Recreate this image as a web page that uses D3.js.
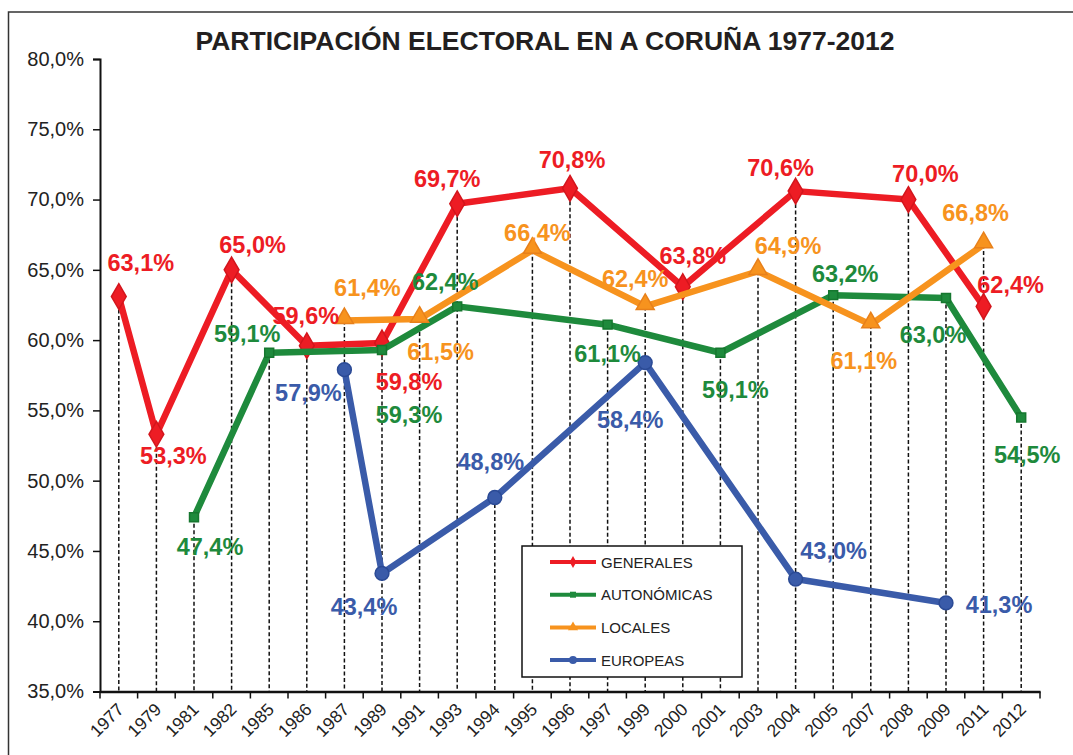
<!DOCTYPE html>
<html><head><meta charset="utf-8">
<script src="https://cdn.jsdelivr.net/npm/d3@7"></script>
<style>body{margin:0;background:#fff}svg{display:block}</style>
</head><body>
<svg id="chart" width="1073" height="755"></svg>
<script>
// ---- data ----
const years = ["1977","1979","1981","1982","1985","1986","1987","1989","1991","1993","1994","1995","1996","1997","1999","2000","2001","2003","2004","2005","2007","2008","2009","2011","2012"];
const generalesYears = ["1977","1979","1982","1986","1989","1993","1996","2000","2004","2008","2011"];
const generalesValues = [63.1,53.3,65.0,59.6,59.8,69.7,70.8,63.8,70.6,70.0,62.4];
const autonomicasYears = ["1981","1985","1989","1993","1997","2001","2005","2009","2012"];
const autonomicasValues = [47.4,59.1,59.3,62.4,61.1,59.1,63.2,63.0,54.5];
const localesYears = ["1987","1991","1995","1999","2003","2007","2011"];
const localesValues = [61.4,61.5,66.4,62.4,64.9,61.1,66.8];
const europeasYears = ["1987","1989","1994","1999","2004","2009"];
const europeasValues = [57.9,43.4,48.8,58.4,43.0,41.3];
const yTicks = [35,40,45,50,55,60,65,70,75,80];
const seriesNames = ["GENERALES","AUTONÓMICAS","LOCALES","EUROPEAS"];
const titleText = "PARTICIPACIÓN ELECTORAL EN A CORUÑA 1977-2012";

// label placement (styling, px offsets from the point)
const generalesLabelOffsets = [[22,-34],[17,21],[21,-25],[-1,-30],[27,39],[-10,-25],[2,-29],[10,-31],[-15,-24],[17,-26],[27,-22]];
const autonomicasLabelOffsets = [[16,29],[-22,-19],[27,65],[-12,-25],[0,29],[15,37],[12,-22],[-13,37],[6,37]];
const localesLabelOffsets = [[23,-33],[21,33],[5,-18],[-10,-28],[30,-26],[-7,36],[-8,-32]];
const europeasLabelOffsets = [[-36,23],[-18,33],[-4,-36],[-15,57],[38,-28],[53,2]];

const colors = ["#ED1C24","#1E8A3C","#F7931E","#3A5BA9"];
const strokes = ["#D3151C","#16772F","#E8801A","#2B4A95"];
const symbols = [d3.symbolDiamond, d3.symbolSquare, d3.symbolTriangle, d3.symbolCircle];
const symSizes = [190, 80, 140, 150];

const series = [
  {years: generalesYears, values: generalesValues, offs: generalesLabelOffsets},
  {years: autonomicasYears, values: autonomicasValues, offs: autonomicasLabelOffsets},
  {years: localesYears, values: localesValues, offs: localesLabelOffsets},
  {years: europeasYears, values: europeasValues, offs: europeasLabelOffsets}
].map((s,i)=>({name: seriesNames[i], color: colors[i], stroke: strokes[i], symbol: symbols[i], size: symSizes[i],
   points: s.years.map((yr,j)=>({year:yr, value:s.values[j], off:s.offs[j]}))}));

// ---- layout ----
const svg = d3.select("#chart");
const plotLeft = 100, plotRight = 1040, plotTop = 59, plotBottom = 691.5;
const x = d3.scaleBand().domain(years).range([plotLeft, plotRight]).paddingInner(0).paddingOuter(0);
const cx = d => x(d) + x.bandwidth()/2;
const y = d3.scaleLinear().domain([35,80]).range([plotBottom, plotTop]);
const font = "Liberation Sans, Arial, Helvetica, sans-serif";

// frame
svg.append("rect").attr("x",8.5).attr("y",12).attr("width",1100).attr("height",800)
  .attr("fill","none").attr("stroke","#333").attr("stroke-width",1.5);

// title
svg.append("text").attr("x",545).attr("y",50).attr("text-anchor","middle")
  .attr("font-family",font).attr("font-weight","bold").attr("font-size",26.5).attr("fill","#231F20")
  .text(titleText);

// drop lines
const maxByYear = new Map();
series.forEach(s=>s.points.forEach(p=>{
  maxByYear.set(p.year, Math.max(maxByYear.has(p.year)?maxByYear.get(p.year):-Infinity, p.value));
}));
svg.append("g").selectAll("line").data(years.filter(yr=>maxByYear.has(yr))).join("line")
  .attr("x1",d=>cx(d)).attr("x2",d=>cx(d))
  .attr("y1",d=>y(maxByYear.get(d))).attr("y2",plotBottom)
  .attr("stroke","#111").attr("stroke-width",1.5).attr("stroke-dasharray","4,2.5");

// axes
const yAxis = d3.axisLeft(y).tickValues(yTicks).tickSize(7).tickPadding(9)
  .tickFormat(d=>d3.format(".1f")(d).replace(".",",")+"%");
const gy = svg.append("g").attr("transform",`translate(${plotLeft},0)`).call(yAxis);
gy.select(".domain").attr("stroke","#111").attr("stroke-width",2);
gy.selectAll(".tick line").attr("stroke","#111").attr("stroke-width",1.5);
gy.selectAll(".tick text").attr("font-family",font).attr("font-size",20).attr("fill","#222");

const xAxis = d3.axisBottom(x).tickSize(0).tickFormat(d=>d);
const gx = svg.append("g").attr("transform",`translate(0,${plotBottom})`).call(xAxis);
gx.select(".domain").attr("stroke","#111").attr("stroke-width",2.5);
gx.selectAll(".tick text").attr("font-family",font).attr("font-size",17.5).attr("fill","#222")
  .attr("text-anchor","end").attr("dy","0").attr("y",0).attr("x",0)
  .attr("transform","translate(6,19) rotate(-45)");
// boundary ticks (between categories)
const bounds = years.map(d=>x(d)).concat([plotRight]);
gx.append("g").selectAll("line").data(bounds).join("line")
  .attr("x1",d=>d).attr("x2",d=>d).attr("y1",0).attr("y2",7)
  .attr("stroke","#111").attr("stroke-width",1.5);

// series lines + markers
const line = d3.line().x(d=>cx(d.year)).y(d=>y(d.value));
series.forEach(s=>{
  const g = svg.append("g");
  g.append("path").datum(s.points).attr("d",line).attr("fill","none")
    .attr("stroke",s.color).attr("stroke-width",6.5).attr("stroke-linejoin","round").attr("stroke-linecap","butt");
  g.selectAll("path.m").data(s.points).join("path").attr("class","m")
    .attr("d",d3.symbol().type(s.symbol).size(s.size))
    .attr("transform",d=>`translate(${cx(d.year)},${y(d.value)})${s.symbol===d3.symbolTriangle?" translate(0,-2)":""}`)
    .attr("fill",s.color).attr("stroke",s.stroke).attr("stroke-width",1.5);
});

// data labels
const fmt = v => d3.format(".1f")(v).replace(".",",")+"%";
series.forEach(s=>{
  svg.append("g").selectAll("text").data(s.points).join("text")
    .attr("x",d=>cx(d.year)+d.off[0]).attr("y",d=>y(d.value)+d.off[1]+8.4)
    .attr("text-anchor","middle").attr("font-family",font).attr("font-weight","bold")
    .attr("font-size",23.5).attr("fill",s.color).text(d=>fmt(d.value));
});

// legend
const lg = svg.append("g");
lg.append("rect").attr("x",522).attr("y",546).attr("width",220).attr("height",131)
  .attr("fill","#fff").attr("stroke","#111").attr("stroke-width",1.5);
const legSizes = [40,36,45,50];
series.forEach((s,i)=>{
  const ly = 562 + i*32.7;
  lg.append("line").attr("x1",550).attr("x2",596).attr("y1",ly).attr("y2",ly)
    .attr("stroke",s.color).attr("stroke-width",4);
  lg.append("path").attr("d",d3.symbol().type(s.symbol).size(legSizes[i]))
    .attr("transform",`translate(573,${ly})`).attr("fill",s.color);
  lg.append("text").attr("x",601).attr("y",ly+5.5).attr("font-family",font).attr("font-size",15)
    .attr("fill","#222").text(s.name);
});
</script>
</body></html>
